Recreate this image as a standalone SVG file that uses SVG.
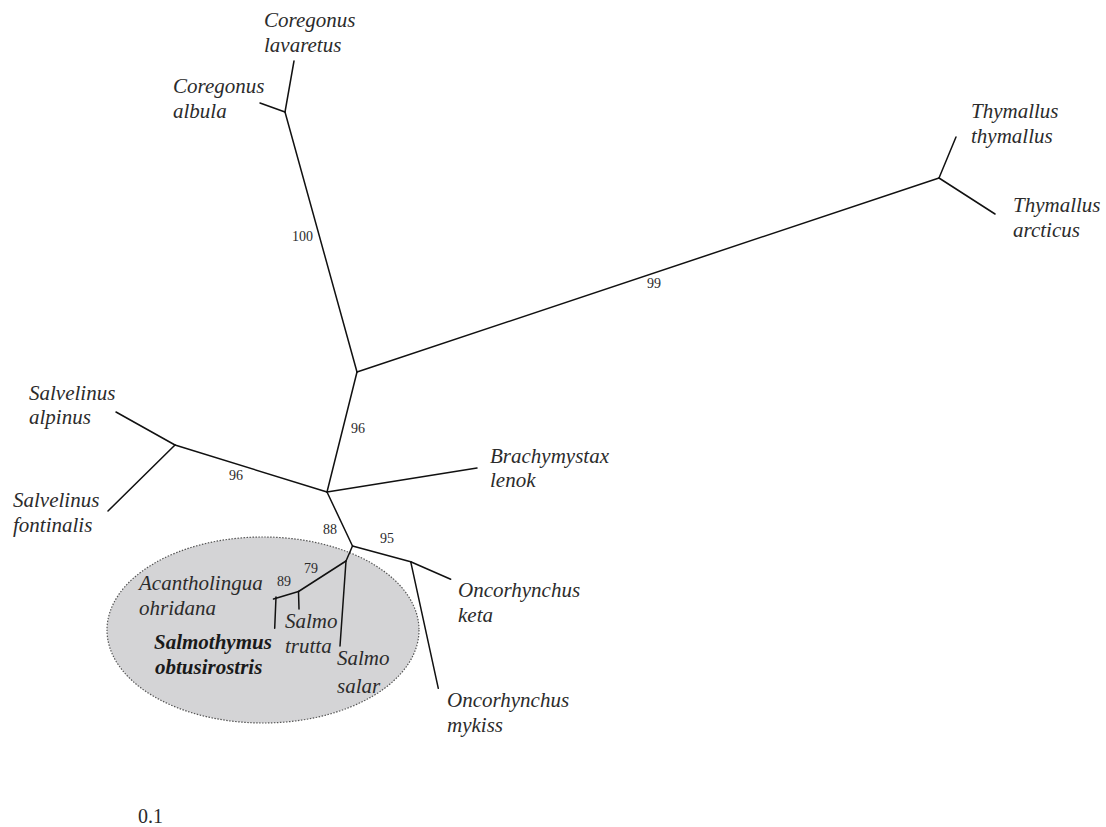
<svg xmlns="http://www.w3.org/2000/svg" width="1106" height="827" viewBox="0 0 1106 827">
<style>
.tx{font-family:"Liberation Serif","Times New Roman",serif;font-style:italic;font-size:21px;fill:#2b2b2b}
.bd{font-weight:bold;fill:#1a1a1a}
.bs{font-family:"Liberation Serif","Times New Roman",serif;font-size:14px;fill:#2b2b2b}
.sc{font-family:"Liberation Serif","Times New Roman",serif;font-size:20px;fill:#2b2b2b}
.br{stroke:#111;stroke-width:1.5;fill:none;stroke-linecap:round}
</style>
<rect width="1106" height="827" fill="#fff"/>
<g id="salmo-group">
<ellipse cx="263" cy="630" rx="156" ry="93" fill="#d4d4d6" stroke="#555" stroke-width="1.2" stroke-dasharray="1.5 1.5"/>
</g>
<g id="connectors" class="br">
<line x1="294" y1="61" x2="285" y2="112"/>
<line x1="260" y1="103" x2="285" y2="112"/>
<line x1="285" y1="112" x2="357" y2="372"/>
<line x1="357" y1="372" x2="939" y2="178"/>
<line x1="939" y1="178" x2="956" y2="137"/>
<line x1="939" y1="178" x2="995" y2="214"/>
<line x1="357" y1="372" x2="327" y2="492"/>
<line x1="327" y1="492" x2="175" y2="445"/>
<line x1="175" y1="445" x2="116" y2="412"/>
<line x1="175" y1="445" x2="108" y2="511"/>
<line x1="327" y1="492" x2="477" y2="468"/>
<line x1="327" y1="492" x2="352.5" y2="546"/>
<line x1="352.5" y1="546" x2="410.7" y2="561.7"/>
<line x1="410.7" y1="561.7" x2="450.7" y2="579.3"/>
<line x1="410.7" y1="561.7" x2="438.3" y2="688.3"/>
<line x1="352.5" y1="546" x2="346" y2="561"/>
<line x1="346" y1="561" x2="340" y2="646"/>
<line x1="346" y1="561" x2="298.5" y2="591.5"/>
<line x1="298.5" y1="591.5" x2="299" y2="609"/>
<line x1="298.5" y1="591.5" x2="273.5" y2="599"/>
<line x1="276" y1="597" x2="274.7" y2="628.3"/>
</g>
<g id="support-values">
<text class="bs" x="292" y="241">100</text>
<text class="bs" x="647" y="288">99</text>
<text class="bs" x="351" y="433">96</text>
<text class="bs" x="229" y="480">96</text>
<text class="bs" x="323" y="534">88</text>
<text class="bs" x="380" y="543">95</text>
<text class="bs" x="304" y="573">79</text>
<text class="bs" x="277" y="586">89</text>
</g>
<g id="coregonus-lavaretus"><text class="tx" x="264" y="27">Coregonus</text><text class="tx" x="264" y="52">lavaretus</text></g>
<g id="coregonus-albula"><text class="tx" x="173" y="93">Coregonus</text><text class="tx" x="173" y="118">albula</text></g>
<g id="thymallus-thymallus"><text class="tx" x="971" y="118">Thymallus</text><text class="tx" x="971" y="143">thymallus</text></g>
<g id="thymallus-arcticus"><text class="tx" x="1013" y="212">Thymallus</text><text class="tx" x="1013" y="237">arcticus</text></g>
<g id="salvelinus-alpinus"><text class="tx" x="29" y="400">Salvelinus</text><text class="tx" x="29" y="424">alpinus</text></g>
<g id="salvelinus-fontinalis"><text class="tx" x="13" y="507">Salvelinus</text><text class="tx" x="13" y="532">fontinalis</text></g>
<g id="brachymystax-lenok"><text class="tx" x="490" y="463">Brachymystax</text><text class="tx" x="490" y="487">lenok</text></g>
<g id="oncorhynchus-keta"><text class="tx" x="458" y="597">Oncorhynchus</text><text class="tx" x="458" y="622">keta</text></g>
<g id="oncorhynchus-mykiss"><text class="tx" x="447" y="707">Oncorhynchus</text><text class="tx" x="447" y="732">mykiss</text></g>
<g id="acantholingua-ohridana"><text class="tx" x="139" y="590">Acantholingua</text><text class="tx" x="139" y="615">ohridana</text></g>
<g id="salmothymus-obtusirostris"><text class="tx bd" x="154" y="649">Salmothymus</text><text class="tx bd" x="155" y="674">obtusirostris</text></g>
<g id="salmo-trutta"><text class="tx" x="285" y="628">Salmo</text><text class="tx" x="285" y="653">trutta</text></g>
<g id="salmo-salar"><text class="tx" x="337" y="665">Salmo</text><text class="tx" x="337" y="693">salar</text></g>
<g id="scale"><text class="sc" x="138" y="823">0.1</text></g>
</svg>
